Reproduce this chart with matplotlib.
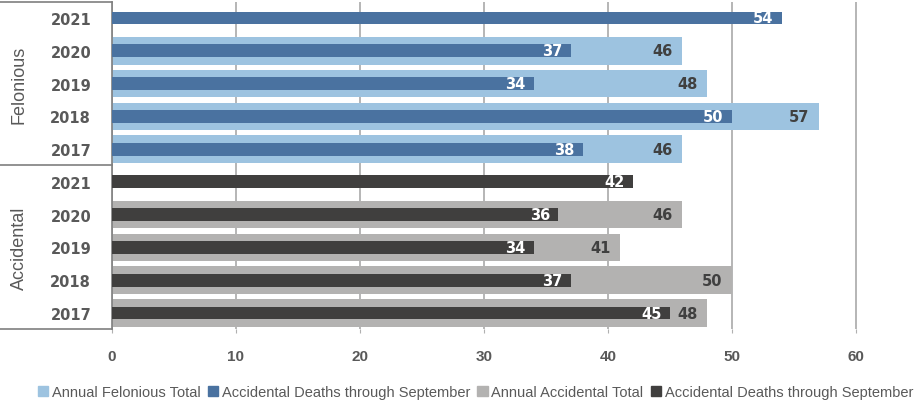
import matplotlib.pyplot as plt
from matplotlib.patches import Rectangle
from matplotlib.transforms import blended_transform_factory

# data
groups = ["Felonious", "Accidental"]
years = ["2021", "2020", "2019", "2018", "2017"]
fel_annual = [None, 46, 48, 57, 46]
fel_sept = [54, 37, 34, 50, 38]
acc_annual = [None, 46, 41, 50, 48]
acc_sept = [42, 36, 34, 37, 45]
x_ticks = [0, 10, 20, 30, 40, 50, 60]
legend_labels = ["Annual Felonious Total", "Accidental Deaths through September",
                 "Annual Accidental Total", "Accidental Deaths through September"]

c_fel_wide = "#9DC3E0"
c_fel_narrow = "#4A72A0"
c_acc_wide = "#B3B2B1"
c_acc_narrow = "#403F3E"
txt_gray = "#595959"
grid_gray = "#B0B0B0"

fig = plt.figure(figsize=(9.18, 4.06), dpi=100)
ax = fig.add_axes([112 / 918, 1 - 330.4 / 406, 806 / 918, 327.8 / 406])


def draw_group(start, annual, sept, c_wide, c_narrow):
    for i, (a, s) in enumerate(zip(annual, sept)):
        y = start + i
        if a is not None:
            ax.barh(y, a, height=0.84, color=c_wide, zorder=2)
            ax.annotate(str(a), (a, y), xytext=(-7, 0), textcoords="offset points",
                        ha="right", va="center", fontsize=10.5, fontweight="bold",
                        color="#404040", zorder=4)
        ax.barh(y, s, height=0.39, color=c_narrow, zorder=3)
        ax.annotate(str(s), (s, y), xytext=(-6, 0), textcoords="offset points",
                    ha="right", va="center", fontsize=10.5, fontweight="bold",
                    color="white", zorder=5)


draw_group(0, fel_annual, fel_sept, c_fel_wide, c_fel_narrow)
draw_group(5, acc_annual, acc_sept, c_acc_wide, c_acc_narrow)

ax.set_ylim(9.5, -0.5)
ax.set_xlim(0, 65)
ax.set_yticks(range(10))
ax.set_yticklabels(years + years, fontsize=10.5, fontweight="bold", color=txt_gray)
ax.tick_params(axis="y", length=0, pad=15)
ax.set_xticks(x_ticks)
ax.set_xticklabels([str(t) for t in x_ticks], fontsize=11, fontweight="bold",
                   color=txt_gray, family=["Liberation Sans", "DejaVu Sans"])
ax.tick_params(axis="x", length=3, color=grid_gray, pad=11)
ax.grid(axis="x", color=grid_gray, linewidth=1.3, zorder=0)
ax.set_axisbelow(True)
for side in ["top", "right", "bottom"]:
    ax.spines[side].set_visible(False)
ax.spines["left"].set_color("#7F7F7F")
ax.spines["left"].set_linewidth(1.2)

# group box on the left
trans = blended_transform_factory(ax.transAxes, ax.transData)
x_left = -112 / 806
for yb in [-0.5, 4.5, 9.5]:
    ax.plot([x_left, 0], [yb, yb], transform=trans, color="#7F7F7F",
            linewidth=1.2, clip_on=False)
for gi, g in enumerate(groups):
    ax.text(-93 / 806, 2 + gi * 5, g, transform=trans, rotation=90,
            ha="center", va="center", fontsize=13, color=txt_gray,
            family=["Liberation Sans", "DejaVu Sans"])

# legend
handles = [Rectangle((0, 0), 1, 1, color=c) for c in
           [c_fel_wide, c_fel_narrow, c_acc_wide, c_acc_narrow]]
fig.legend(handles, legend_labels, loc="center left", bbox_to_anchor=(0.035, 0.032),
           ncol=4, frameon=False, handlelength=0.7, handleheight=0.7,
           handletextpad=0.25, columnspacing=0.5, borderaxespad=0,
           prop={"family": ["Liberation Sans", "DejaVu Sans"], "size": 10.5},
           labelcolor=txt_gray)

fig.savefig("out.png", dpi=100)
